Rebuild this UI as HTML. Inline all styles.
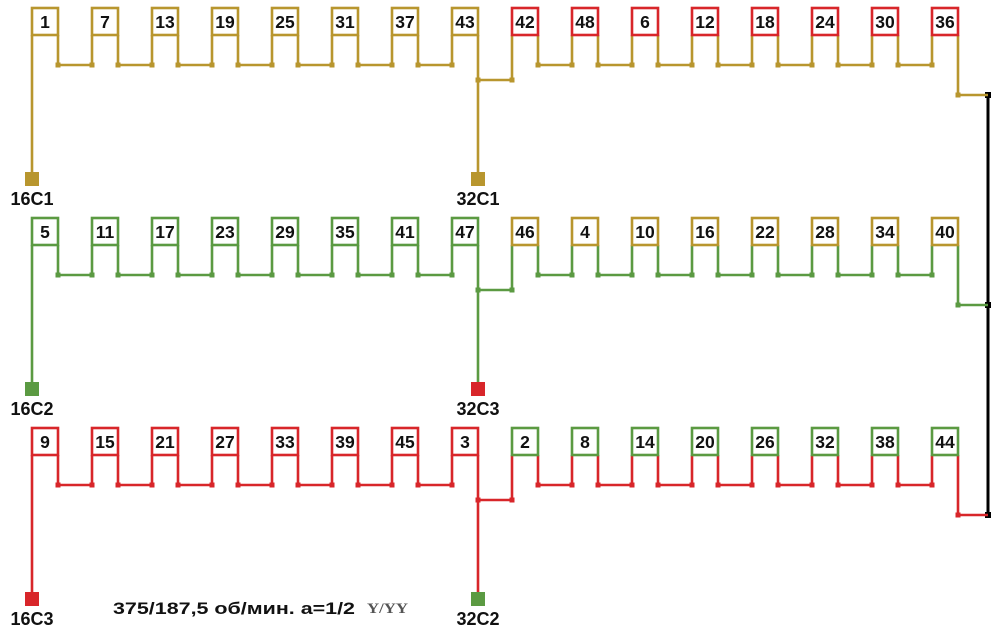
<!DOCTYPE html>
<html><head><meta charset="utf-8"><style>
html,body{margin:0;padding:0;background:#fff;width:1007px;height:638px;overflow:hidden}
svg text{font-family:"Liberation Sans",sans-serif;font-weight:bold;fill:#111}
</style></head><body>
<svg width="1007" height="638" viewBox="0 0 1007 638" xmlns="http://www.w3.org/2000/svg">
<defs>
<g id="w">
<path fill="none" stroke="currentColor" stroke-width="2.6" d="M32 35V179 M58 35V65H92V35 M118 35V65H152V35 M178 35V65H212V35 M238 35V65H272V35 M298 35V65H332V35 M358 35V65H392V35 M418 35V65H452V35 M478 35V179 M478 80H512V35 M538 35V65H572V35 M598 35V65H632V35 M658 35V65H692V35 M718 35V65H752V35 M778 35V65H812V35 M838 35V65H872V35 M898 35V65H932V35 M958 35V95H988"/>
<g fill="currentColor">
<rect x="55.5" y="62.5" width="5" height="5"/><rect x="89.5" y="62.5" width="5" height="5"/>
<rect x="115.5" y="62.5" width="5" height="5"/><rect x="149.5" y="62.5" width="5" height="5"/>
<rect x="175.5" y="62.5" width="5" height="5"/><rect x="209.5" y="62.5" width="5" height="5"/>
<rect x="235.5" y="62.5" width="5" height="5"/><rect x="269.5" y="62.5" width="5" height="5"/>
<rect x="295.5" y="62.5" width="5" height="5"/><rect x="329.5" y="62.5" width="5" height="5"/>
<rect x="355.5" y="62.5" width="5" height="5"/><rect x="389.5" y="62.5" width="5" height="5"/>
<rect x="415.5" y="62.5" width="5" height="5"/><rect x="449.5" y="62.5" width="5" height="5"/>
<rect x="475.5" y="77.5" width="5" height="5"/><rect x="509.5" y="77.5" width="5" height="5"/>
<rect x="535.5" y="62.5" width="5" height="5"/><rect x="569.5" y="62.5" width="5" height="5"/>
<rect x="595.5" y="62.5" width="5" height="5"/><rect x="629.5" y="62.5" width="5" height="5"/>
<rect x="655.5" y="62.5" width="5" height="5"/><rect x="689.5" y="62.5" width="5" height="5"/>
<rect x="715.5" y="62.5" width="5" height="5"/><rect x="749.5" y="62.5" width="5" height="5"/>
<rect x="775.5" y="62.5" width="5" height="5"/><rect x="809.5" y="62.5" width="5" height="5"/>
<rect x="835.5" y="62.5" width="5" height="5"/><rect x="869.5" y="62.5" width="5" height="5"/>
<rect x="895.5" y="62.5" width="5" height="5"/><rect x="929.5" y="62.5" width="5" height="5"/>
<rect x="955.5" y="92.5" width="5" height="5"/>
</g>
</g>
<g id="bl" fill="#fff" stroke-width="2.6">
<rect x="32" y="8" width="26" height="27"/><rect x="92" y="8" width="26" height="27"/><rect x="152" y="8" width="26" height="27"/><rect x="212" y="8" width="26" height="27"/><rect x="272" y="8" width="26" height="27"/><rect x="332" y="8" width="26" height="27"/><rect x="392" y="8" width="26" height="27"/><rect x="452" y="8" width="26" height="27"/>
</g>
<g id="br" fill="#fff" stroke-width="2.6">
<rect x="512" y="8" width="26" height="27"/><rect x="572" y="8" width="26" height="27"/><rect x="632" y="8" width="26" height="27"/><rect x="692" y="8" width="26" height="27"/><rect x="752" y="8" width="26" height="27"/><rect x="812" y="8" width="26" height="27"/><rect x="872" y="8" width="26" height="27"/><rect x="932" y="8" width="26" height="27"/>
</g>
</defs>

<path d="M988 95V515" stroke="#000" stroke-width="3"/>
<rect x="985" y="92" width="6" height="6" fill="#000"/>
<rect x="985" y="302" width="6" height="6" fill="#000"/>
<rect x="985" y="512" width="6" height="6" fill="#000"/>

<!-- row 1 -->
<use href="#w" style="color:#b8962e"/>
<use href="#bl" stroke="#b8962e"/>
<use href="#br" stroke="#d8262a"/>
<rect x="25" y="172" width="14" height="14" fill="#b8962e"/>
<rect x="471" y="172" width="14" height="14" fill="#b8962e"/>
<g font-size="17.5" text-anchor="middle">
<text x="45" y="28">1</text><text x="105" y="28">7</text><text x="165" y="28">13</text><text x="225" y="28">19</text><text x="285" y="28">25</text><text x="345" y="28">31</text><text x="405" y="28">37</text><text x="465" y="28">43</text>
<text x="525" y="28">42</text><text x="585" y="28">48</text><text x="645" y="28">6</text><text x="705" y="28">12</text><text x="765" y="28">18</text><text x="825" y="28">24</text><text x="885" y="28">30</text><text x="945" y="28">36</text>
</g>
<g font-size="18" text-anchor="middle">
<text x="32" y="205">16C1</text><text x="478" y="205">32C1</text>
</g>

<!-- row 2 -->
<g transform="translate(0,210)">
<use href="#w" style="color:#5b9a42"/>
<use href="#bl" stroke="#5b9a42"/>
<use href="#br" stroke="#b8962e"/>
<rect x="25" y="172" width="14" height="14" fill="#5b9a42"/>
<rect x="471" y="172" width="14" height="14" fill="#d8262a"/>
<g font-size="17.5" text-anchor="middle">
<text x="45" y="28">5</text><text x="105" y="28">11</text><text x="165" y="28">17</text><text x="225" y="28">23</text><text x="285" y="28">29</text><text x="345" y="28">35</text><text x="405" y="28">41</text><text x="465" y="28">47</text>
<text x="525" y="28">46</text><text x="585" y="28">4</text><text x="645" y="28">10</text><text x="705" y="28">16</text><text x="765" y="28">22</text><text x="825" y="28">28</text><text x="885" y="28">34</text><text x="945" y="28">40</text>
</g>
<g font-size="18" text-anchor="middle">
<text x="32" y="205">16C2</text><text x="478" y="205">32C3</text>
</g>
</g>

<!-- row 3 -->
<g transform="translate(0,420)">
<use href="#w" style="color:#d8262a"/>
<use href="#bl" stroke="#d8262a"/>
<use href="#br" stroke="#5b9a42"/>
<rect x="25" y="172" width="14" height="14" fill="#d8262a"/>
<rect x="471" y="172" width="14" height="14" fill="#5b9a42"/>
<g font-size="17.5" text-anchor="middle">
<text x="45" y="28">9</text><text x="105" y="28">15</text><text x="165" y="28">21</text><text x="225" y="28">27</text><text x="285" y="28">33</text><text x="345" y="28">39</text><text x="405" y="28">45</text><text x="465" y="28">3</text>
<text x="525" y="28">2</text><text x="585" y="28">8</text><text x="645" y="28">14</text><text x="705" y="28">20</text><text x="765" y="28">26</text><text x="825" y="28">32</text><text x="885" y="28">38</text><text x="945" y="28">44</text>
</g>
<g font-size="18" text-anchor="middle">
<text x="32" y="205">16C3</text><text x="478" y="205">32C2</text>
</g>
</g>

<text x="113" y="614" font-size="17" textLength="242" lengthAdjust="spacingAndGlyphs">375/187,5 об/мин. а=1/2</text>
<text x="367" y="613" font-size="15" textLength="41" lengthAdjust="spacingAndGlyphs" style="font-family:'Liberation Serif',serif;fill:#555">Y/YY</text>
</svg>
</body></html>
